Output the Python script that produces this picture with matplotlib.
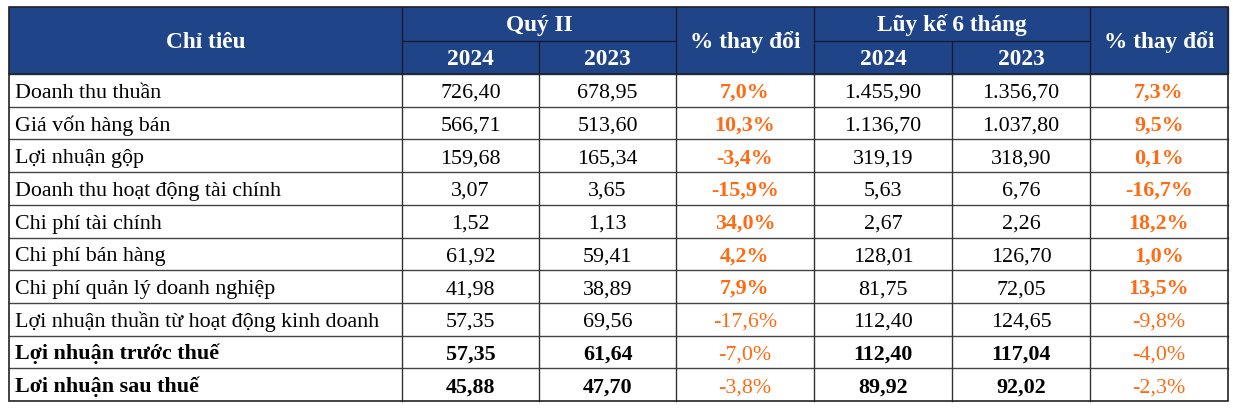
import matplotlib.pyplot as plt
from matplotlib.patches import Rectangle

plt.rcParams['font.family'] = ['Liberation Serif', 'DejaVu Serif']

labels = ['Doanh thu thuần', 'Giá vốn hàng bán', 'Lợi nhuận gộp',
          'Doanh thu hoạt động tài chính', 'Chi phí tài chính', 'Chi phí bán hàng',
          'Chi phí quản lý doanh nghiệp', 'Lợi nhuận thuần từ hoạt động kinh doanh',
          'Lợi nhuận trước thuế', 'Lơi nhuận sau thuế']
q2_2024 = ['726,40', '566,71', '159,68', '3,07', '1,52', '61,92', '41,98', '57,35', '57,35', '45,88']
q2_2023 = ['678,95', '513,60', '165,34', '3,65', '1,13', '59,41', '38,89', '69,56', '61,64', '47,70']
q2_chg = ['7,0%', '10,3%', '-3,4%', '-15,9%', '34,0%', '4,2%', '7,9%', '-17,6%', '-7,0%', '-3,8%']
h1_2024 = ['1.455,90', '1.136,70', '319,19', '5,63', '2,67', '128,01', '81,75', '112,40', '112,40', '89,92']
h1_2023 = ['1.356,70', '1.037,80', '318,90', '6,76', '2,26', '126,70', '72,05', '124,65', '117,04', '92,02']
h1_chg = ['7,3%', '9,5%', '0,1%', '-16,7%', '18,2%', '1,0%', '13,5%', '-9,8%', '-4,0%', '-2,3%']
bold_rows = [8, 9]
bold_pct_rows = [0, 1, 2, 3, 4, 5, 6]

# layout (pixels)
col_x = [9, 402, 539, 676, 814, 952, 1090, 1228]
top, h1, h2, row_h = 7, 34, 33, 32.7
navy = '#1F4588'
orange = '#FF6A13'
fs = 15.8
base = 7.5  # baseline offset below cell centre

fig = plt.figure(figsize=(12.33, 4.08), dpi=100)
ax = fig.add_axes([0, 0, 1, 1])
ax.set_xlim(0, 1233)
ax.set_ylim(408, 0)
ax.axis('off')

hb = top + h1 + h2
ax.add_patch(Rectangle((col_x[0], top), col_x[-1] - col_x[0], h1 + h2, color=navy, zorder=1))

hdr = dict(color='white', fontweight='bold', fontsize=fs + 1, ha='center', va='baseline')
ax.text((col_x[0] + col_x[1]) / 2, top + (h1 + h2) / 2 + base, 'Chỉ tiêu', **hdr)
ax.text((col_x[1] + col_x[3]) / 2, top + h1 / 2 + base, 'Quý II', **hdr)
ax.text((col_x[4] + col_x[6]) / 2, top + h1 / 2 + base, 'Lũy kế 6 tháng', **hdr)
ax.text((col_x[3] + col_x[4]) / 2, top + (h1 + h2) / 2 + base, '% thay đổi', **hdr)
ax.text((col_x[6] + col_x[7]) / 2, top + (h1 + h2) / 2 + base, '% thay đổi', **hdr)
for i, yr in zip([1, 2, 4, 5], ['2024', '2023', '2024', '2023']):
    ax.text((col_x[i] + col_x[i + 1]) / 2, top + h1 + h2 / 2 + base, yr, **hdr)

# header lines
lc = '#1a1a2e'
ax.plot([col_x[1], col_x[3]], [top + h1] * 2, color=lc, lw=1, zorder=3)
ax.plot([col_x[4], col_x[6]], [top + h1] * 2, color=lc, lw=1, zorder=3)
for i in [1, 3, 4, 6]:
    ax.plot([col_x[i]] * 2, [top, hb], color=lc, lw=1, zorder=3)
for i in [2, 5]:
    ax.plot([col_x[i]] * 2, [top + h1, hb], color=lc, lw=1, zorder=3)

n = len(labels)
bottom = hb + n * row_h
for r in range(n):
    yc = hb + (r + 0.5) * row_h + base
    w = 'bold' if r in bold_rows else 'normal'
    ax.text(col_x[0] + 6, yc, labels[r], fontsize=fs, fontweight=w, ha='left', va='baseline', color='black')
    vals = [q2_2024[r], q2_2023[r], q2_chg[r], h1_2024[r], h1_2023[r], h1_chg[r]]
    for c, v in enumerate(vals):
        xc = (col_x[c + 1] + col_x[c + 2]) / 2
        if c in (2, 5):
            pw = 'bold' if r in bold_pct_rows else 'normal'
            ax.text(xc, yc, v, fontsize=fs, fontweight=pw, ha='center', va='baseline', color=orange)
        else:
            ax.text(xc, yc, v, fontsize=fs, fontweight=w, ha='center', va='baseline', color='black')
    if r > 0:
        ax.plot([col_x[0], col_x[-1]], [hb + r * row_h] * 2, color='#444444', lw=1, zorder=3)

# body lines
for i in range(1, len(col_x) - 1):
    ax.plot([col_x[i]] * 2, [hb, bottom], color='#333333', lw=1, zorder=3)
ax.add_patch(Rectangle((col_x[0], top), col_x[-1] - col_x[0], bottom - top,
                       fill=False, ec='#222222', lw=1.2, zorder=4))
ax.plot([col_x[0], col_x[-1]], [hb, hb], color='#222222', lw=1.2, zorder=4)

fig.savefig('out.png', dpi=100)
